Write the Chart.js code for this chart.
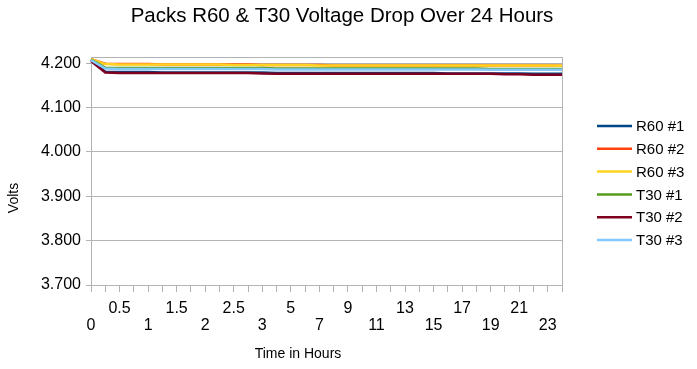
<!DOCTYPE html>
<html>
<head>
<meta charset="utf-8">
<script src="https://cdn.jsdelivr.net/npm/chart.js@4.4.1/dist/chart.umd.min.js"></script>
<style>
  html, body { margin: 0; padding: 0; background: #fff; }
  #chart { display: block; }
</style>
</head>
<body>
<canvas id="chart" width="697" height="369"></canvas>
<script>
// hours after charging (first 3 hours every 15 min, then hourly)
const hours = [0, 0.25, 0.5, 0.75, 1, 1.25, 1.5, 1.75, 2, 2.25, 2.5, 2.75, 3,
  4, 5, 6, 7, 8, 9, 10, 11, 12, 13, 14, 15, 16, 17, 18, 19, 20, 21, 22, 23, 24];

const r60_1 = [4.208, 4.181, 4.180, 4.180, 4.180, 4.179, 4.179, 4.179, 4.179, 4.179, 4.179, 4.179, 4.179,
  4.178, 4.178, 4.178, 4.178, 4.178, 4.178, 4.178, 4.178, 4.178, 4.178, 4.178, 4.178, 4.177, 4.177, 4.177,
  4.177, 4.177, 4.177, 4.176, 4.176, 4.176];
const r60_2 = [4.209, 4.199, 4.198, 4.198, 4.198, 4.197, 4.197, 4.197, 4.197, 4.197, 4.197, 4.197, 4.196,
  4.196, 4.196, 4.196, 4.196, 4.195, 4.195, 4.195, 4.195, 4.195, 4.195, 4.195, 4.195, 4.195, 4.195, 4.195,
  4.195, 4.195, 4.195, 4.195, 4.195, 4.194];
const r60_3 = [4.209, 4.198, 4.197, 4.197, 4.197, 4.197, 4.197, 4.197, 4.197, 4.197, 4.196, 4.196, 4.196,
  4.196, 4.196, 4.196, 4.195, 4.195, 4.195, 4.195, 4.195, 4.195, 4.195, 4.195, 4.195, 4.195, 4.195, 4.195,
  4.195, 4.195, 4.195, 4.195, 4.195, 4.194];
const t30_1 = [4.208, 4.190, 4.189, 4.189, 4.189, 4.189, 4.189, 4.189, 4.189, 4.189, 4.189, 4.189, 4.189,
  4.188, 4.188, 4.188, 4.188, 4.188, 4.188, 4.188, 4.188, 4.188, 4.188, 4.188, 4.188, 4.188, 4.188, 4.188,
  4.187, 4.187, 4.187, 4.187, 4.187, 4.187];
const t30_2 = [4.205, 4.179, 4.178, 4.178, 4.178, 4.178, 4.178, 4.178, 4.178, 4.178, 4.178, 4.178, 4.177,
  4.176, 4.176, 4.176, 4.176, 4.176, 4.176, 4.176, 4.176, 4.176, 4.176, 4.176, 4.176, 4.176, 4.176, 4.176,
  4.176, 4.175, 4.175, 4.174, 4.174, 4.174];
const t30_3 = [4.207, 4.188, 4.187, 4.187, 4.187, 4.187, 4.187, 4.187, 4.187, 4.187, 4.187, 4.187, 4.187,
  4.186, 4.186, 4.186, 4.186, 4.186, 4.186, 4.186, 4.186, 4.186, 4.186, 4.186, 4.186, 4.186, 4.186, 4.186,
  4.185, 4.185, 4.185, 4.185, 4.185, 4.185];

const seriesNames = ['R60 #1', 'R60 #2', 'R60 #3', 'T30 #1', 'T30 #2', 'T30 #3'];
const seriesData = [r60_1, r60_2, r60_3, t30_1, t30_2, t30_3];
const seriesColors = ['#004586', '#ff420e', '#ffd320', '#579d1c', '#7e0021', '#83caff'];

const yTicks = [3.7, 3.8, 3.9, 4.0, 4.1, 4.2];
const yMin = 3.7;
const yMax = 4.214;

const FONT = 'Liberation Sans, Arial, sans-serif';
const GRID = '#b3b3b3';

// frame, titles and legend placed like the original
const extras = {
  id: 'extras',
  beforeDatasetsDraw(chart) {
    const { ctx, chartArea: a } = chart;
    ctx.save();
    ctx.strokeStyle = GRID;
    ctx.lineWidth = 1;
    ctx.strokeRect(Math.round(a.left) + 0.5, Math.round(a.top) + 0.5,
      Math.round(a.right - a.left), Math.round(a.bottom - a.top));
    ctx.restore();
  },
  afterDraw(chart) {
    const { ctx } = chart;
    ctx.save();
    ctx.fillStyle = '#000';
    ctx.textAlign = 'center';
    ctx.textBaseline = 'middle';
    ctx.font = '20.5px ' + FONT;
    ctx.fillText('Packs R60 & T30 Voltage Drop Over 24 Hours', 342, 16);
    ctx.font = '14px ' + FONT;
    ctx.fillText('Time in Hours', 298, 354);
    ctx.translate(14, 198);
    ctx.rotate(-Math.PI / 2);
    ctx.fillText('Volts', 0, 0);
    ctx.restore();

    ctx.save();
    ctx.font = '15px ' + FONT;
    ctx.textBaseline = 'middle';
    ctx.textAlign = 'left';
    chart.data.datasets.forEach((ds, i) => {
      const y = 126 + i * 22.8;
      ctx.strokeStyle = ds.borderColor;
      ctx.lineWidth = 2.5;
      ctx.beginPath();
      ctx.moveTo(597, y);
      ctx.lineTo(632, y);
      ctx.stroke();
      ctx.fillStyle = '#000';
      ctx.fillText(ds.label, 636, y + 1);
    });
    ctx.restore();
  }
};

new Chart(document.getElementById('chart'), {
  type: 'line',
  data: {
    labels: hours,
    datasets: seriesNames.map((name, i) => ({
      label: name,
      data: seriesData[i],
      borderColor: seriesColors[i],
      backgroundColor: seriesColors[i],
      borderWidth: 2.5,
      pointRadius: 0,
      tension: 0,
      order: seriesNames.length - i
    }))
  },
  options: {
    responsive: false,
    animation: false,
    devicePixelRatio: 1,
    layout: { padding: { left: 30, right: 135, top: 57, bottom: 0 } },
    plugins: {
      legend: { display: false },
      tooltip: { enabled: false },
      title: { display: false }
    },
    scales: {
      x: {
        afterFit: (axis) => { axis.height = 84; },
        grid: { drawOnChartArea: false, drawTicks: true, tickLength: 7, color: GRID },
        border: { color: GRID },
        ticks: {
          autoSkip: false,
          maxRotation: 0,
          padding: 8,
          color: '#000',
          font: { family: FONT, size: 16, lineHeight: 1.05 },
          callback: (val, i) => {
            if (i % 2) return '';
            return i % 4 === 0 ? ['', String(hours[i])] : [String(hours[i]), ''];
          }
        }
      },
      y: {
        min: yMin,
        max: yMax,
        afterFit: (axis) => { axis.width = 61; },
        afterBuildTicks: (axis) => {
          axis.ticks = yTicks.map(v => ({ value: v }));
        },
        grid: { color: GRID, tickLength: 5 },
        border: { color: GRID },
        ticks: {
          padding: 5,
          color: '#000',
          font: { family: FONT, size: 16 },
          callback: (v) => v.toFixed(3)
        }
      }
    }
  },
  plugins: [extras]
});
</script>
</body>
</html>
